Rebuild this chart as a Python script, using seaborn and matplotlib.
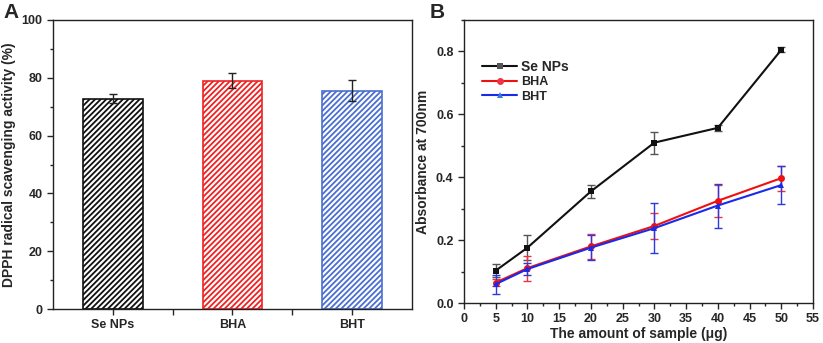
import numpy as np
import pandas as pd
import matplotlib
matplotlib.use("Agg")
import matplotlib.pyplot as plt
import seaborn as sns
from matplotlib.ticker import MultipleLocator

sns.set_style("ticks")
plt.rcParams['font.family'] = ['Liberation Sans', 'DejaVu Sans']
plt.rcParams['font.weight'] = 'bold'
plt.rcParams['hatch.linewidth'] = 1.3

# panel A data
samples = ['Se NPs', 'BHA', 'BHT']
dpph = [72.8, 79.0, 75.6]
dpph_err = [1.6, 2.6, 3.6]

# panel B data
amount = [5, 10, 20, 30, 40, 50]
se_nps = [0.103, 0.176, 0.355, 0.510, 0.557, 0.805]
se_nps_err = [0.020, 0.040, 0.020, 0.035, 0.010, 0.008]
bha = [0.065, 0.111, 0.180, 0.245, 0.325, 0.397]
bha_err = [0.012, 0.040, 0.040, 0.040, 0.050, 0.040]
bht = [0.060, 0.108, 0.176, 0.238, 0.310, 0.375]
bht_err = [0.030, 0.020, 0.040, 0.080, 0.070, 0.060]

bar_colors = ['#111111', '#ee2222', '#4a6fd0']

fig = plt.figure(figsize=(8.23, 3.43), dpi=100)
axA = fig.add_axes([53/823, 1-309/343, 359/823, 289/343])
axB = fig.add_axes([464/823, 1-303/343, 349/823, 283/343])

# ---- A
dfA = pd.DataFrame({'sample': samples, 'dpph': dpph})
sns.barplot(data=dfA, x='sample', y='dpph', ax=axA, width=0.5, fill=False)
for p, c in zip(axA.patches, bar_colors):
    p.set_edgecolor(c)
    p.set_facecolor('white')
    p.set_hatch('//////')
    p.set_linewidth(1.2)
axA.errorbar(range(3), dpph, yerr=dpph_err, fmt='none', ecolor='#222222',
             elinewidth=1, capsize=3, capthick=1)
axA.set_xlim(-0.5, 2.5)
axA.set_ylim(0, 100)
axA.yaxis.set_major_locator(MultipleLocator(20))
axA.yaxis.set_minor_locator(MultipleLocator(10))
axA.set_xticks([0, 0.5, 1, 1.5, 2], ['Se NPs', '', 'BHA', '', 'BHT'])
axA.set_xlabel('')
axA.set_ylabel('DPPH radical scavenging activity (%)', fontsize=10, fontweight='bold')

# ---- B
dfB = pd.DataFrame({
    'amount': amount * 3,
    'value': se_nps + bha + bht,
    'group': ['Se NPs'] * 6 + ['BHA'] * 6 + ['BHT'] * 6,
})
line_colors = {'Se NPs': '#111111', 'BHA': '#ee1111', 'BHT': '#1a2ae8'}
mk_colors = {'Se NPs': '#555555', 'BHA': '#ee3344', 'BHT': '#3a7ae0'}
err_colors = {'Se NPs': '#555555', 'BHA': '#ee3344', 'BHT': '#2a3ae0'}
errs = {'Se NPs': se_nps_err, 'BHA': bha_err, 'BHT': bht_err}
vals = {'Se NPs': se_nps, 'BHA': bha, 'BHT': bht}
markers = {'Se NPs': 's', 'BHA': 'o', 'BHT': '^'}

for g in ['Se NPs', 'BHA', 'BHT']:
    axB.errorbar(amount, vals[g], yerr=errs[g], fmt='none', ecolor=err_colors[g],
                 elinewidth=1, capsize=3, capthick=1, zorder=2)
sns.lineplot(data=dfB, x='amount', y='value', hue='group', style='group',
             palette=line_colors, markers=markers, dashes=False, ax=axB,
             linewidth=1.5, markersize=5, markeredgewidth=0, zorder=3)
for line, g in zip(axB.lines[-3:], ['Se NPs', 'BHA', 'BHT']):
    line.set_markerfacecolor(mk_colors[g])

axB.set_xlim(0, 55)
axB.set_ylim(0, 0.9)
axB.xaxis.set_major_locator(MultipleLocator(5))
axB.xaxis.set_minor_locator(MultipleLocator(2.5))
axB.yaxis.set_major_locator(MultipleLocator(0.2))
axB.yaxis.set_minor_locator(MultipleLocator(0.1))
axB.yaxis.set_major_formatter(matplotlib.ticker.FormatStrFormatter('%.1f'))
axB.set_xlabel('The amount of sample (\u03bcg)', fontsize=10, fontweight='bold', labelpad=1)
axB.set_ylabel('Absorbance at 700nm', fontsize=10, fontweight='bold')
leg = axB.legend(loc='upper left', bbox_to_anchor=(0.02, 0.9), frameon=False,
                 prop={'family': 'Liberation Sans', 'weight': 'bold', 'size': 9},
                 handlelength=2.8, handletextpad=0.3,
                 labelspacing=0.2, title=None)
leg.get_texts()[0].set_fontsize(10)

for ax in (axA, axB):
    for s in ax.spines.values():
        s.set_visible(True)
        s.set_linewidth(1)
        s.set_color('#222222')
    ax.tick_params(which='major', length=4, width=1, labelsize=9, direction='out')
    ax.tick_params(which='minor', length=2, width=1)
    ax.tick_params(axis='both', which='both', top=False, right=False)
    for lab in ax.get_xticklabels() + ax.get_yticklabels():
        lab.set_fontweight('bold')

fig.text(3/823, 1-12/343, 'A', fontsize=15, fontweight='bold', va='center')
fig.text(430/823, 1-12/343, 'B', fontsize=15, fontweight='bold', va='center')

fig.savefig('out.png', dpi=100)
